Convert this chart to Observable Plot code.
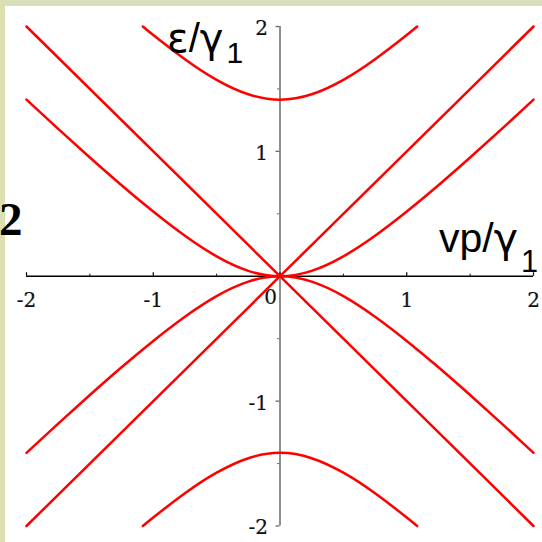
<!DOCTYPE html>
<html>
<head>
<meta charset="utf-8">
<script src="https://cdn.jsdelivr.net/npm/d3@7"></script>
<script src="https://cdn.jsdelivr.net/npm/@observablehq/plot@0.6"></script>
<style>
  html, body { margin: 0; padding: 0; background: #ffffff; }
  #wrap { position: relative; width: 542px; height: 542px; overflow: hidden; }
  .strip { position: absolute; }
  #stripTop { left: 0; top: 0; width: 542px; height: 6px; background: #d8e0c0; }
  #stripLeft { left: 0; top: 0; width: 5px; height: 542px; background: #dce0b0; }
  #chart { position: absolute; left: 0; top: 0; }
</style>
</head>
<body>
<div id="wrap">
  <div class="strip" id="stripTop"></div>
  <div class="strip" id="stripLeft"></div>
  <div id="chart"></div>
</div>
<script>
// Bilayer-graphene style dispersion: energy ε/γ1 against momentum vp/γ1.

// Momentum samples for the low-energy bands
const vpLow = [-2, -1.75, -1.5, -1.25, -1, -0.75, -0.5, -0.25, 0, 0.25, 0.5, 0.75, 1, 1.25, 1.5, 1.75, 2];
// Low-energy (touching) band, upper branch
const epsLow = [1.414, 1.180, 0.951, 0.729, 0.518, 0.324, 0.159, 0.043, 0, 0.043, 0.159, 0.324, 0.518, 0.729, 0.951, 1.180, 1.414];

// Momentum samples for the split-off bands (they leave the frame at |ε| = 2)
const vpHigh = [-1.082, -1, -0.75, -0.5, -0.25, 0, 0.25, 0.5, 0.75, 1, 1.082];
// Split-off band, upper branch
const epsHigh = [2, 1.932, 1.738, 1.573, 1.457, 1.414, 1.457, 1.573, 1.738, 1.932, 2];

// Linear (Dirac-like) lines through the origin
const vpLine = [-2, 2];
const epsLineUp = [-2, 2];
const epsLineDown = [2, -2];

// Axis ticks
const majorTicks = [-2, -1, 0, 1, 2];
const minorTicks = [-1.5, -0.5, 0.5, 1.5];
const xTickLabels = [-2, -1, 1, 2];
const yTickLabels = [-2, -1, 1, 2];

// Long table of all curves
const curves = [];
vpLow.forEach((v, i) => {
  curves.push({branch: "low+", vp: v, eps: epsLow[i]});
  curves.push({branch: "low-", vp: v, eps: -epsLow[i]});
});
vpHigh.forEach((v, i) => {
  curves.push({branch: "high+", vp: v, eps: epsHigh[i]});
  curves.push({branch: "high-", vp: v, eps: -epsHigh[i]});
});
vpLine.forEach((v, i) => {
  curves.push({branch: "lineUp", vp: v, eps: epsLineUp[i]});
  curves.push({branch: "lineDown", vp: v, eps: epsLineDown[i]});
});

const fmt = d => (d < 0 ? "-" : "") + Math.abs(d);
const tickFont = "'DejaVu Serif', 'Liberation Serif', serif";
const tickStyle = {fill: "#111", stroke: "#111", strokeWidth: 0.2};

const plot = Plot.plot({
  width: 542,
  height: 542,
  marginLeft: 26,
  marginRight: 9,
  marginTop: 26,
  marginBottom: 16.5,
  x: {domain: [-2, 2], axis: null},
  y: {domain: [-2, 2], axis: null},
  style: {background: "transparent", overflow: "visible"},
  marks: [
    // horizontal axis
    Plot.ruleY([0], {stroke: "#000", strokeWidth: 1.3}),
    // vertical axis
    Plot.ruleX([0], {stroke: "#6a6a6a", strokeWidth: 1.5}),
    // x ticks, pointing up
    Plot.ruleX(majorTicks, {x: d => d, y1: () => 0, y2: () => 0, insetBottom: 3.5, stroke: "#000", strokeWidth: 1.2}),
    Plot.ruleX(minorTicks, {x: d => d, y1: () => 0, y2: () => 0, insetBottom: 2, stroke: "#000", strokeWidth: 1}),
    // y ticks, pointing left
    Plot.ruleY(majorTicks, {y: d => d, x1: () => 0, x2: () => 0, insetLeft: -4, stroke: "#6a6a6a", strokeWidth: 1.3}),
    Plot.ruleY(minorTicks, {y: d => d, x1: () => 0, x2: () => 0, insetLeft: -2.5, stroke: "#6a6a6a", strokeWidth: 1}),
    // tick labels
    Plot.text(xTickLabels, {x: d => d, y: () => 0, text: fmt, dy: 24, ...tickStyle}),
    Plot.text([0], {x: d => d, y: () => 0, text: () => "0", dx: -9.5, dy: 21, ...tickStyle}),
    Plot.text(yTickLabels, {x: () => 0, y: d => d, text: fmt, textAnchor: "end", dx: -12, dy: 2, ...tickStyle}),
    // dispersion curves
    Plot.line(curves, {x: "vp", y: "eps", z: "branch", stroke: "#ff0000", strokeWidth: 2.5, curve: "natural"})
  ]
});

document.getElementById("chart").appendChild(plot);

const svg = d3.select(plot);

// Serif tick-label typeface, set on the text elements themselves
svg.selectAll("g[aria-label='text'] text")
  .style("font-family", tickFont)
  .style("font-size", "20px");

// Axis titles and panel number
const sans = "'Liberation Sans', Arial, sans-serif";
const greek = "'DejaVu Sans', sans-serif";

function title(x, y, size, parts, subDy) {
  const t = svg.append("text")
    .attr("x", x).attr("y", y).attr("text-anchor", "start")
    .style("font-family", sans).style("font-size", size + "px").attr("fill", "#000");
  parts.forEach(([s, font]) => t.append("tspan").style("font-family", font).text(s));
  t.append("tspan").style("font-size", (size * 0.75) + "px").attr("dx", 3).attr("dy", subDy).text("1");
}

title(167, 52, 40, [["ε", greek], ["/", sans], ["γ", greek]], 11);
title(439, 252, 41, [["vp", sans], ["/", sans], ["γ", greek]], 20);

svg.append("text")
  .attr("x", -1).attr("y", 235).attr("text-anchor", "start")
  .style("font-family", "'Liberation Serif', serif").style("font-weight", "bold")
  .style("font-size", "47px").attr("fill", "#000")
  .text("2");
</script>
</body>
</html>
